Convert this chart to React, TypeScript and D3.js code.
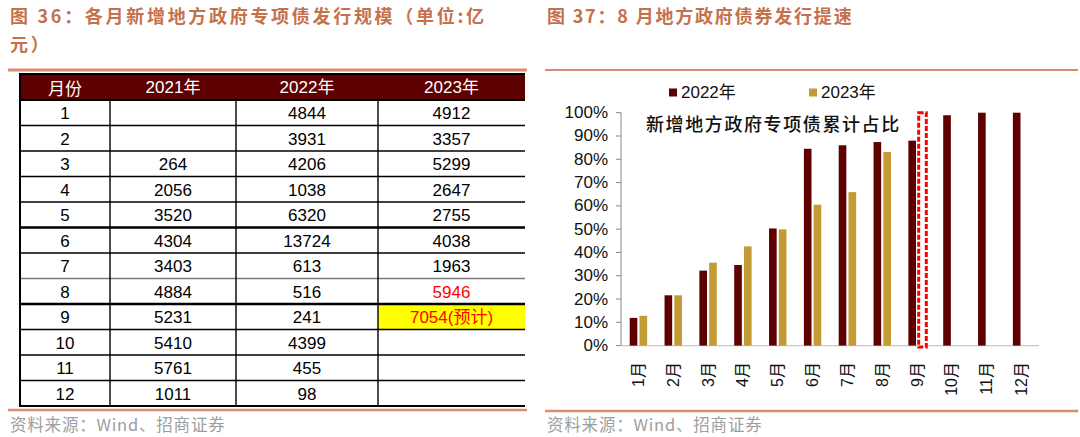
import React from 'react';
import * as d3 from 'd3';

// ---------- Table data (left panel) ----------
const tableHeaders = ['月份', '2021年', '2022年', '2023年'];
const tableMonths = ['1', '2', '3', '4', '5', '6', '7', '8', '9', '10', '11', '12'];
const issue2021 = ['', '', '264', '2056', '3520', '4304', '3403', '4884', '5231', '5410', '5761', '1011'];
const issue2022 = ['4844', '3931', '4206', '1038', '6320', '13724', '613', '516', '241', '4399', '455', '98'];
const issue2023 = ['4912', '3357', '5299', '2647', '2755', '4038', '1963', '5946', '7054(预计)', '', '', ''];

// ---------- Chart data (right panel) ----------
const chartMonths = ['1月', '2月', '3月', '4月', '5月', '6月', '7月', '8月', '9月', '10月', '11月', '12月'];
const share2022 = [11.9, 21.6, 32.2, 34.6, 50.3, 84.5, 86.0, 87.4, 88.0, 98.9, 100, 100];
const share2023: (number | null)[] = [12.8, 21.6, 35.6, 42.6, 49.9, 60.5, 65.9, 83.1, null, null, null, null];
const forecastMonth = '9月';
const forecastShare = 100;
const yTicks = [0, 10, 20, 30, 40, 50, 60, 70, 80, 90, 100];
const seriesNames = ['2022年', '2023年'];

const DARK = '#5E0000';
const GOLD = '#C29B34';
const TITLE = '#C4714C';
const RULE = '#D98C6E';
const CJK = '"Noto Sans CJK SC", "Noto Sans", sans-serif';
const SANS = '"Liberation Sans", Arial, "Noto Sans CJK SC", sans-serif';

function Table() {
  const colEdges = [20, 110, 236, 378, 525];
  const rowY = d3.scaleBand<number>().domain(d3.range(tableMonths.length)).range([100, 406]);
  const cols = [tableMonths, issue2021, issue2022, issue2023];
  const rh = rowY.step();
  return (
    <g>
      <rect x={colEdges[0]} y={74} width={colEdges[4] - colEdges[0]} height={26} fill={DARK} />
      {tableHeaders.map((h, i) => (
        <text key={h} x={(colEdges[i] + colEdges[i + 1]) / 2} y={87} fill="#fff" fontSize={17}
          fontFamily={i === 0 ? CJK : SANS} textAnchor="middle" dominantBaseline="central">{h}</text>
      ))}
      <rect x={colEdges[3]} y={rowY(8)!} width={colEdges[4] - colEdges[3]} height={rh} fill="#FFFF00" />
      {cols.map((col, ci) =>
        col.map((v, ri) => (
          <text key={ci + '-' + ri} x={(colEdges[ci] + colEdges[ci + 1]) / 2} y={rowY(ri)! + rh / 2 + 1}
            fontSize={17} fontFamily={SANS} textAnchor="middle" dominantBaseline="central"
            fill={ci === 3 && (ri === 7 || ri === 8) ? '#FF0000' : '#000'}>{v}</text>
        ))
      )}
      {d3.range(tableMonths.length + 1).map((i) => {
        const y = 100 + i * rh;
        const thick = i === 5 || i === 8;
        const gray = i === 7;
        return (
          <line key={'h' + i} x1={colEdges[0]} x2={colEdges[4]} y1={y} y2={y}
            stroke={gray ? '#7a7a7a' : '#000'} strokeWidth={thick ? 2.5 : i === 0 || i === 12 ? 2 : 1.4} />
        );
      })}
      <line x1={colEdges[0]} x2={colEdges[4]} y1={74} y2={74} stroke="#000" strokeWidth={2} />
      {colEdges.slice(0, 4).map((x, i) => (
        <line key={'v' + i} x1={x} x2={x} y1={i === 0 ? 73 : 100} y2={407} stroke="#000" strokeWidth={i === 0 ? 2 : 1.4} />
      ))}
    </g>
  );
}

function Chart() {
  const x = d3.scaleBand<string>().domain(chartMonths).range([621, 1039]).paddingInner(0.5).paddingOuter(0.25);
  const x1 = d3.scaleBand<string>().domain(seriesNames).range([0, x.bandwidth()]).paddingInner(0.22);
  const y = d3.scaleLinear().domain([0, 100]).range([345.6, 112.7]);
  const axisX = 621;
  return (
    <g>
      <rect x={669} y={88.5} width={8} height={8} fill={DARK} />
      <text x={681} y={92.5} fontSize={17} fontFamily={SANS} dominantBaseline="central" fill="#111">{seriesNames[0]}</text>
      <rect x={809} y={88.5} width={8} height={8} fill={GOLD} />
      <text x={821} y={92.5} fontSize={17} fontFamily={SANS} dominantBaseline="central" fill="#111">{seriesNames[1]}</text>

      <line x1={axisX} x2={axisX} y1={y(0)} y2={y(100)} stroke="#888" strokeWidth={1} />
      {yTicks.map((t) => (
        <g key={t}>
          <line x1={axisX - 5} x2={axisX} y1={y(t)} y2={y(t)} stroke="#888" strokeWidth={1} />
          <text x={608} y={y(t)} fontSize={17} fontFamily={SANS} textAnchor="end" dominantBaseline="central" fill="#111">{t + '%'}</text>
        </g>
      ))}
      <line x1={axisX} x2={1039} y1={y(0)} y2={y(0)} stroke="#c8c8c8" strokeWidth={1.2} />

      {chartMonths.map((m, i) => (
        <g key={m}>
          <rect x={x(m)! + x1(seriesNames[0])!} y={y(share2022[i])} width={x1.bandwidth()} height={y(0) - y(share2022[i])} fill={DARK} />
          {share2023[i] != null && (
            <rect x={x(m)! + x1(seriesNames[1])!} y={y(share2023[i] as number)} width={x1.bandwidth()}
              height={y(0) - y(share2023[i] as number)} fill={GOLD} />
          )}
        </g>
      ))}
      <rect x={x(forecastMonth)! + x1(seriesNames[1])! + 0.5} y={y(forecastShare)} width={x1.bandwidth()}
        height={y(0) - y(forecastShare) + 1.5} fill="#fff" stroke="#FF0000" strokeWidth={3} strokeDasharray="5 2" />

      {chartMonths.map((m) => {
        const cx = x(m)! + x.bandwidth() / 2;
        return (
          <text key={m} transform={`translate(${cx},362) rotate(-90)`} fontSize={16} fontFamily={SANS}
            textAnchor="end" dominantBaseline="central" fill="#111">{m}</text>
        );
      })}

      <text x={646} y={123} fontSize={18} fontFamily={CJK} letterSpacing={1.6} dominantBaseline="central" fill="#111" fontWeight={500}>新增地方政府专项债累计占比</text>
    </g>
  );
}

export default function App() {
  return (
    <svg width={1080} height={437} style={{ position: 'absolute', left: 0, top: 0, background: '#fff' }}>
      <rect width={1080} height={437} fill="#fff" />
      <text x={10} y={15} fontSize={18} fontFamily={CJK} fontWeight={700} fill={TITLE} letterSpacing={2.7} dominantBaseline="central">图 36：各月新增地方政府专项债发行规模（单位:亿</text>
      <text x={10} y={43} fontSize={18} fontFamily={CJK} fontWeight={700} fill={TITLE} letterSpacing={2.7} dominantBaseline="central">元）</text>
      <text x={547} y={15} fontSize={18} fontFamily={CJK} fontWeight={700} fill={TITLE} letterSpacing={1.8} dominantBaseline="central">图 37：8 月地方政府债券发行提速</text>

      <line x1={8} x2={527} y1={70} y2={70} stroke={RULE} strokeWidth={3} />
      <line x1={545} x2={1078} y1={70} y2={70} stroke={RULE} strokeWidth={2} />
      <line x1={8} x2={527} y1={410} y2={410} stroke={RULE} strokeWidth={2.5} />
      <line x1={545} x2={1078} y1={411} y2={411} stroke={RULE} strokeWidth={2.5} />

      <Table />
      <Chart />

      <text x={10} y={424} fontSize={16.5} fontFamily={CJK} fill="#9e9e9e" letterSpacing={0.8} dominantBaseline="central">资料来源：Wind、招商证券</text>
      <text x={547} y={424} fontSize={16.5} fontFamily={CJK} fill="#9e9e9e" letterSpacing={0.8} dominantBaseline="central">资料来源：Wind、招商证券</text>
    </svg>
  );
}
